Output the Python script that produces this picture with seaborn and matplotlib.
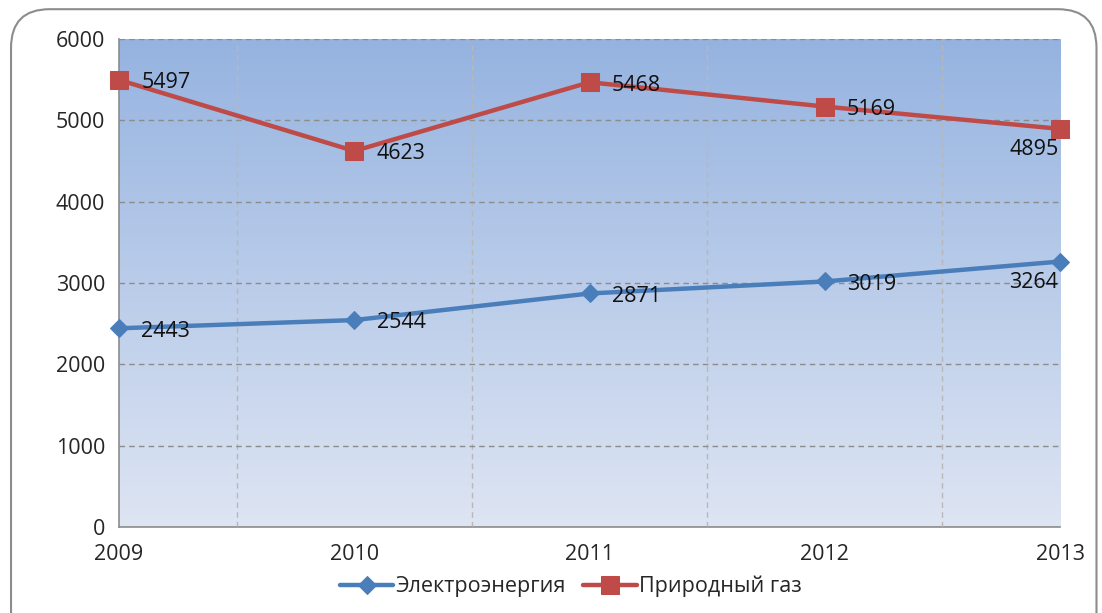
import numpy as np
import pandas as pd
import matplotlib.pyplot as plt
import seaborn as sns
from matplotlib.patches import FancyBboxPatch

years = [2009, 2010, 2011, 2012, 2013]
electricity = [2443, 2544, 2871, 3019, 3264]
gas = [5497, 4623, 5468, 5169, 4895]
series_names = ['Электроэнергия', 'Природный газ']

df = pd.DataFrame({
    'year': years * 2,
    'value': electricity + gas,
    'series': [series_names[0]] * 5 + [series_names[1]] * 5,
})

sns.set_style('white')
plt.rcParams['font.family'] = ['Open Sans', 'DejaVu Sans']
FS = 15.5

fig = plt.figure(figsize=(11.02, 6.13), dpi=100)
ax = fig.add_axes([0.108, 0.1403, 0.854, 0.7961])

# rounded frame around the whole chart
frame = FancyBboxPatch((0.010, -0.06), 0.985, 1.045, boxstyle='round,pad=0,rounding_size=0.035',
                       transform=fig.transFigure, fill=False, edgecolor='#8c8c8c', linewidth=1.5,
                       mutation_aspect=1.8)
fig.patches.append(frame)

# gradient background
grad = np.linspace(0, 1, 256).reshape(-1, 1)
top = np.array([149, 179, 224]) / 255
bottom = np.array([222, 229, 243]) / 255
img = top + (bottom - top) * grad[:, :, None]
ax.imshow(img, extent=[2009, 2013, 0, 6000], aspect='auto', origin='upper', zorder=0)

colors = {series_names[0]: '#4a7ebb', series_names[1]: '#be4b48'}
markers = {series_names[0]: 'D', series_names[1]: 's'}
sizes = {series_names[0]: 9, series_names[1]: 13}

for name in series_names:
    sub = df[df['series'] == name]
    sns.lineplot(data=sub, x='year', y='value', ax=ax, color=colors[name], linewidth=3.2,
                 marker=markers[name], markersize=sizes[name], markeredgecolor=colors[name],
                 label=name, clip_on=False, zorder=5)

# data labels
for name, vals in zip(series_names, [electricity, gas]):
    for x, v in zip(years, vals):
        if x == 2013:
            ax.annotate(str(v), (x, v), xytext=(-19, -15), textcoords='offset points',
                        fontsize=FS, ha='center', va='center', color='#111111', zorder=6)
        else:
            ax.annotate(str(v), (x, v), xytext=(16, -2), textcoords='offset points',
                        fontsize=FS, ha='left', va='center', color='#111111', zorder=6)

ax.set_xlim(2009, 2013)
ax.set_ylim(0, 6000)
ax.set_xticks(years)
ax.set_xticks([2009.5, 2010.5, 2011.5, 2012.5, 2013], minor=True)
ax.set_yticks(range(0, 6001, 1000))
ax.tick_params(axis='x', which='both', length=0, labelsize=FS, pad=12)
ax.tick_params(axis='y', length=6, color='#8c8c8c', labelsize=FS, pad=4)
ax.grid(axis='y', which='major', linestyle='--', color='#8c8c8c', linewidth=1, dashes=(4, 3))
ax.grid(axis='x', which='minor', linestyle='--', color='#b8b8b8', linewidth=1, dashes=(4, 3))
ax.grid(axis='x', which='major', visible=False)
ax.set_axisbelow(False)
for s in ['top', 'right']:
    ax.spines[s].set_visible(False)
for s in ['left', 'bottom']:
    ax.spines[s].set_color('#8c8c8c')
    ax.spines[s].set_linewidth(1.2)
ax.set_xlabel('')
ax.set_ylabel('')

ax.legend(loc='center', bbox_to_anchor=(0.48, -0.122), ncol=2, frameon=False, fontsize=FS,
          handlelength=2.5, columnspacing=0.8, handletextpad=0.1)

fig.savefig('out.png', dpi=100)
